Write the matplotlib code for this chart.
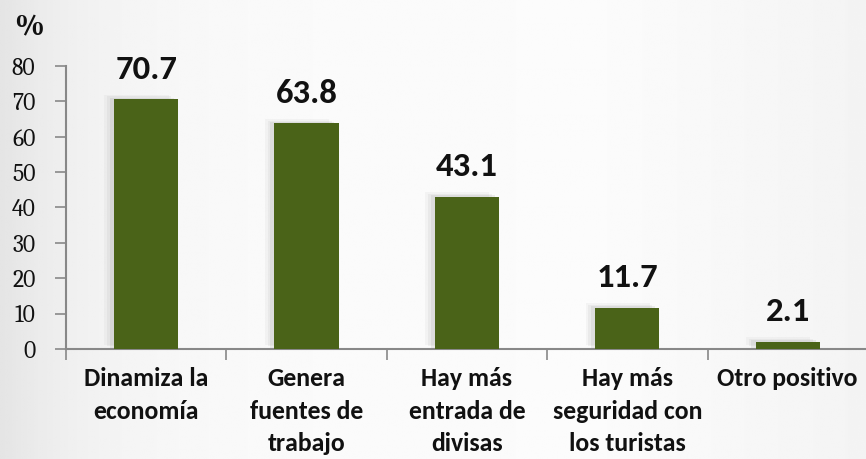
import numpy as np
import matplotlib
matplotlib.use("Agg")
import matplotlib.pyplot as plt
import matplotlib.patheffects as pe

categories = ["Dinamiza la\neconomía", "Genera\nfuentes de\ntrabajo", "Hay más\nentrada de\ndivisas",
              "Hay más\nseguridad con\nlos turistas", "Otro positivo"]
values = [70.7, 63.8, 43.1, 11.7, 2.1]
value_labels = ["70.7", "63.8", "43.1", "11.7", "2.1"]
yticks = [0, 10, 20, 30, 40, 50, 60, 70, 80]

SERIF = ["Caladea", "Liberation Serif", "DejaVu Serif"]
SANS = ["Carlito", "Open Sans", "DejaVu Sans"]

fig = plt.figure(figsize=(8.66, 4.59), dpi=100)

# background gradient
bg = fig.add_axes([0, 0, 1, 1], zorder=-10)
xs = np.linspace(0, 1, 400)
grad = 0.985 - 0.09 * np.exp(-xs / 0.12) - 0.03 * np.clip((xs - 0.7) / 0.3, 0, 1)
bg.imshow(np.tile(grad, (10, 1)), cmap="gray", vmin=0, vmax=1, aspect="auto", extent=[0, 1, 0, 1])
bg.set_axis_off()

ax = fig.add_axes([0.0762, 0.2397, 0.926, 0.6165])
ax.patch.set_alpha(0)
x = np.arange(len(values))
bars = ax.bar(x, values, width=0.4, color="#4a6318", zorder=3)
for b in bars:
    b.set_path_effects([
        pe.SimplePatchShadow(offset=(-7, 3), shadow_rgbFace="#808080", alpha=0.06),
        pe.SimplePatchShadow(offset=(-5, 2), shadow_rgbFace="#808080", alpha=0.08),
        pe.SimplePatchShadow(offset=(-3, 1), shadow_rgbFace="#808080", alpha=0.12),
        pe.Normal()])

for xi, v, lab in zip(x, values, value_labels):
    ax.annotate(lab, (xi, v), xytext=(0, 11), textcoords="offset points",
                ha="center", va="bottom", fontsize=25, fontweight="bold",
                family=SANS, color="#111111")

ax.set_xlim(-0.5, 4.5)
ax.set_ylim(0, 80)
ax.set_yticks(yticks)
ax.set_yticklabels([str(t) for t in yticks], family=SERIF, fontsize=17, color="#111111")
ax.set_xticks(np.arange(-0.5, 5.0, 1.0))
ax.set_xticklabels([])
ax.set_xticks(x, minor=True)
ax.set_xticklabels(categories, minor=True, family=SANS, fontweight="bold", fontsize=18.5,
                   linespacing=1.5, va="top", color="#111111")
ax.tick_params(axis="x", which="minor", length=0, pad=13)
ax.tick_params(axis="x", which="major", length=8, color="#888888", width=1.2)
ax.tick_params(axis="y", length=8, color="#888888", width=1.2, pad=14)
for s in ["top", "right"]:
    ax.spines[s].set_visible(False)
for s in ["left", "bottom"]:
    ax.spines[s].set_color("#888888")
    ax.spines[s].set_linewidth(1.5)

fig.text(0.016, 0.922, "%", family=SERIF, fontsize=22, fontweight="bold", color="#111111")

fig.savefig("out.png", dpi=100)
